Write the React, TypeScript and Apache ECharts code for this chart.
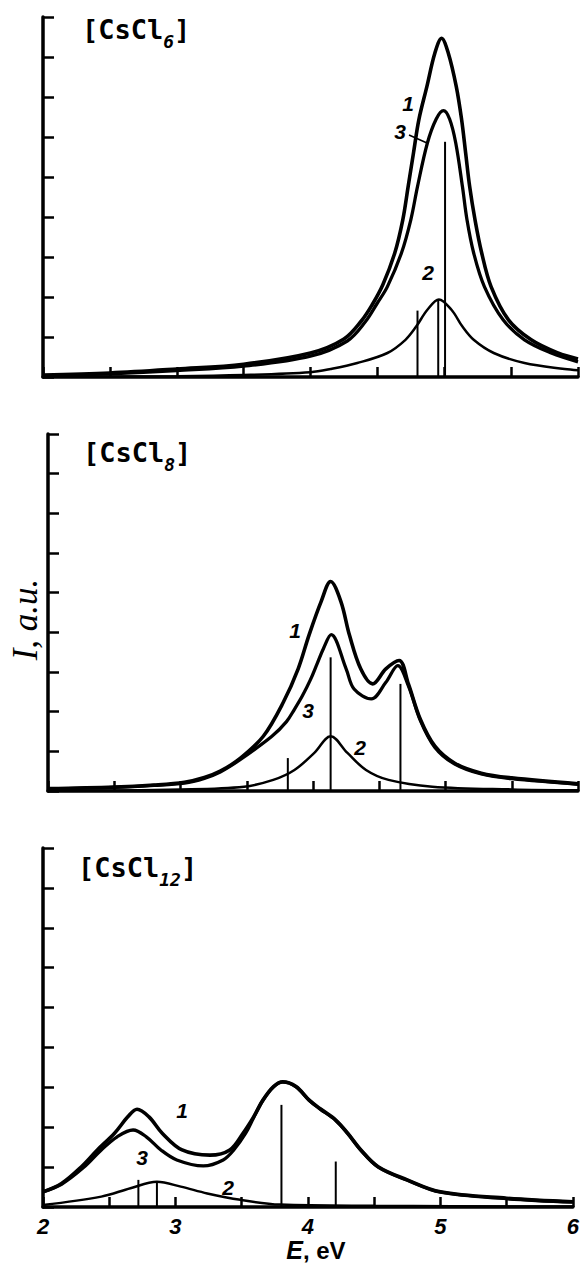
import { useEffect, useRef } from "react";
import * as echarts from "echarts";

// Panel titles: [prefix, subscript, suffix]
const panelTitles = [
  ["[CsCl", "6", "]"],
  ["[CsCl", "8", "]"],
  ["[CsCl", "12", "]"],
];
const xTickLabels = [2, 3, 4, 5, 6];
const xName = "E";
const xUnit = ", eV";
const yName = "I, a.u.";

// ---- Panel 1: [CsCl6] ----
const cscl6Curve1 = [
  [2.0, 0.05], [2.5, 0.1], [3.0, 0.2], [3.5, 0.32], [4.0, 0.6], [4.25, 0.95],
  [4.38, 1.4], [4.46, 1.8], [4.54, 2.3], [4.63, 3.1], [4.69, 3.93], [4.73, 4.76], [4.77, 5.6],
  [4.81, 6.43], [4.87, 7.26], [4.93, 8.1], [4.98, 8.47], [5.03, 8.1], [5.09, 7.26],
  [5.13, 6.43], [5.16, 5.6], [5.19, 4.76], [5.23, 3.93], [5.28, 3.1], [5.35, 2.26],
  [5.48, 1.43], [5.65, 0.93], [5.85, 0.6], [6.0, 0.45],
];
const cscl6Curve3 = [
  [2.0, 0.03], [2.5, 0.08], [3.0, 0.16], [3.5, 0.27], [4.0, 0.52], [4.275, 0.9],
  [4.41, 1.38], [4.5, 1.85], [4.575, 2.26], [4.68, 3.1], [4.75, 3.93], [4.8, 4.76], [4.874, 5.85],
  [4.94, 6.45], [4.994, 6.66], [5.04, 6.45], [5.086, 5.85], [5.136, 4.76], [5.17, 3.93],
  [5.22, 3.1], [5.3, 2.26], [5.44, 1.43], [5.6, 0.93], [5.8, 0.6], [6.0, 0.38],
];
const cscl6Curve2 = [
  [2.0, 0.0], [3.0, 0.02], [3.5, 0.05], [4.0, 0.12], [4.15, 0.2], [4.35, 0.35],
  [4.575, 0.6], [4.71, 0.93], [4.79, 1.26], [4.874, 1.68], [4.96, 1.94], [5.054, 1.68],
  [5.136, 1.26], [5.22, 0.93], [5.37, 0.6], [5.6, 0.35], [5.9, 0.2], [6.0, 0.17],
];
const cscl6Sticks = [[4.8, 1.66], [4.955, 1.93], [5.006, 5.88]];

// ---- Panel 2: [CsCl8] ----
const cscl8Curve1 = [
  [2.0, 0.06], [2.5, 0.1], [2.8, 0.15], [3.03, 0.22], [3.18, 0.34], [3.3, 0.5], [3.45, 0.82],
  [3.625, 1.38], [3.775, 2.23], [3.888, 3.08], [3.97, 3.93], [4.062, 4.78], [4.133, 5.28],
  [4.21, 4.78], [4.275, 3.93], [4.36, 3.08], [4.45, 2.7], [4.55, 3.08], [4.65, 3.29],
  [4.72, 2.7], [4.81, 1.81], [4.92, 1.13], [5.07, 0.7], [5.27, 0.45], [5.5, 0.33], [6.0, 0.18],
];
const cscl8Curve3 = [
  [2.0, 0.05], [2.5, 0.09], [2.8, 0.14], [3.03, 0.2], [3.18, 0.32], [3.3, 0.48], [3.45, 0.79],
  [3.69, 1.38], [3.8, 1.75], [3.86, 2.06], [3.92, 2.4], [3.98, 2.8], [4.03, 3.2], [4.08, 3.6],
  [4.137, 3.94], [4.25, 3.08], [4.31, 2.57], [4.44, 2.32], [4.55, 2.74], [4.64, 3.16],
  [4.72, 2.65], [4.81, 1.78], [4.92, 1.1], [5.07, 0.68], [5.27, 0.43], [5.5, 0.31], [6.0, 0.17],
];
const cscl8Curve2 = [
  [2.0, 0.0], [3.0, 0.04], [3.48, 0.11], [3.7, 0.28], [3.86, 0.53], [4.01, 0.96],
  [4.133, 1.38], [4.26, 0.96], [4.4, 0.53], [4.57, 0.28], [4.9, 0.11], [5.5, 0.04], [6.0, 0.02],
];
const cscl8Sticks = [[3.81, 0.83], [4.133, 3.37], [4.66, 2.7]];

// ---- Panel 3: [CsCl12] ----
const cscl12Curve1 = [
  [2.0, 0.38], [2.14, 0.59], [2.29, 1.01], [2.41, 1.43], [2.54, 1.85], [2.64, 2.26],
  [2.71, 2.45], [2.8, 2.26], [2.9, 1.85], [3.05, 1.43], [3.26, 1.3], [3.41, 1.43],
  [3.51, 1.85], [3.59, 2.26], [3.66, 2.68], [3.74, 3.02], [3.81, 3.14], [3.91, 3.02],
  [4.01, 2.68], [4.09, 2.47], [4.21, 2.18], [4.3, 1.85], [4.4, 1.43], [4.53, 1.01],
  [4.75, 0.68], [5.0, 0.38], [5.5, 0.22], [6.0, 0.13],
];
const cscl12Curve3 = [
  [2.0, 0.38], [2.14, 0.57], [2.31, 1.0], [2.44, 1.43], [2.56, 1.76], [2.68, 1.93],
  [2.78, 1.76], [2.89, 1.43], [3.01, 1.18], [3.21, 1.03], [3.36, 1.18], [3.44, 1.43],
  [3.53, 1.85], [3.59, 2.24], [3.66, 2.67], [3.74, 3.01], [3.81, 3.13], [3.91, 3.01],
  [4.01, 2.67], [4.09, 2.46], [4.21, 2.17], [4.3, 1.84], [4.4, 1.42], [4.53, 1.0],
  [4.75, 0.67], [5.0, 0.37], [5.5, 0.21], [6.0, 0.12],
];
const cscl12Curve2 = [
  [2.0, 0.05], [2.44, 0.26], [2.66, 0.47], [2.86, 0.63], [3.04, 0.51], [3.24, 0.34],
  [3.49, 0.18], [3.79, 0.06], [4.5, 0.03], [6.0, 0.01],
];
const cscl12Sticks = [[2.72, 0.68], [2.86, 0.63], [3.8, 2.56], [4.21, 1.14]];

const panels = [
  { c1: cscl6Curve1, c3: cscl6Curve3, c2: cscl6Curve2, sticks: cscl6Sticks },
  { c1: cscl8Curve1, c3: cscl8Curve3, c2: cscl8Curve2, sticks: cscl8Sticks },
  { c1: cscl12Curve1, c3: cscl12Curve3, c2: cscl12Curve2, sticks: cscl12Sticks },
];

// curve number labels, pixel layout per panel
const curveLabelPos = [
  [["1", 408, 103], ["3", 400, 131], ["2", 428, 272]],
  [["1", 295, 630], ["3", 308, 710], ["2", 360, 747]],
  [["1", 182, 1110], ["3", 142, 1157], ["2", 228, 1187]],
];

const grids = [
  { left: 43, right: 4, top: 17, height: 360 },
  { left: 43, right: 4, top: 434, height: 357 },
  { left: 43, right: 4, top: 848, height: 359 },
];
const titleTops = [8, 431, 846];
const titleLefts = [82, 83, 78];

export default function App() {
  const ref = useRef<HTMLDivElement>(null);
  useEffect(() => {
    if (!ref.current) return;
    const chart = echarts.init(ref.current, null, { renderer: "svg" });
    const black = "#000";
    const xAxis = grids.map((_, i) => ({
      type: "value",
      gridIndex: i,
      min: 2,
      max: 6,
      interval: 0.5,
      axisLine: { onZero: false, lineStyle: { color: black, width: 3.5 } },
      axisTick: { inside: true, length: 10, lineStyle: { color: black, width: 2.5 } },
      splitLine: { show: false },
      axisLabel: {
        show: i === 2,
        margin: 8,
        color: black,
        fontFamily: "Liberation Sans",
        fontStyle: "italic",
        fontWeight: "bold",
        fontSize: 22,
        formatter: (v: number) => (xTickLabels.includes(v) ? String(v) : ""),
      },
      name: i === 2 ? `{it|${xName}}{n|${xUnit}}` : "",
      nameLocation: "middle",
      nameGap: 24,
      nameTextStyle: {
        padding: [0, 0, 0, 16],
        rich: {
          it: { fontFamily: "Liberation Sans", fontStyle: "italic", fontWeight: "bold", fontSize: 25, color: black },
          n: { fontFamily: "Liberation Sans", fontWeight: "bold", fontSize: 24, color: black },
        },
      },
    }));
    const yAxis = grids.map((_, i) => ({
      type: "value",
      gridIndex: i,
      min: 0,
      max: 9,
      interval: 1,
      axisLine: { lineStyle: { color: black, width: 3.5 } },
      axisTick: { inside: true, length: 11, lineStyle: { color: black, width: 2.5 } },
      splitLine: { show: false },
      axisLabel: { show: false },
      name: i === 1 ? yName : "",
      nameLocation: "middle",
      nameRotate: 90,
      nameGap: 5,
      nameTextStyle: {
        fontFamily: "Liberation Serif",
        fontStyle: "italic",
        fontSize: 35,
        color: black,
        padding: [0, 14, 0, 0],
      },
    }));
    const series: any[] = [];
    panels.forEach((p, i) => {
      const lineBase = {
        type: "line",
        xAxisIndex: i,
        yAxisIndex: i,
        smooth: 0.35,
        showSymbol: false,
        symbol: "none",
        silent: true,
      };
      series.push({ ...lineBase, name: `curve1-${i}`, data: p.c1, lineStyle: { color: black, width: 3.6 } });
      series.push({ ...lineBase, name: `curve3-${i}`, data: p.c3, lineStyle: { color: black, width: 3.3 } });
      series.push({ ...lineBase, name: `curve2-${i}`, data: p.c2, lineStyle: { color: black, width: 2.5 } });
      series.push({
        type: "bar",
        name: `sticks-${i}`,
        xAxisIndex: i,
        yAxisIndex: i,
        barWidth: 2,
        data: p.sticks,
        itemStyle: { color: black },
        silent: true,
      });
    });
    const title = panelTitles.map((t, i) => ({
      text: `{b|${t[0]}}{s|${t[1]}}{b|${t[2]}}`,
      left: titleLefts[i],
      top: titleTops[i],
      padding: 0,
      textStyle: {
        rich: {
          b: { fontFamily: "DejaVu Sans Mono", fontSize: 27, lineHeight: 42, color: black, verticalAlign: "middle" },
          s: { fontFamily: "DejaVu Sans Mono", fontStyle: "italic", fontWeight: "bold", fontSize: 18, lineHeight: 18, color: black, verticalAlign: "bottom" },
        },
      },
    }));
    const graphic: any[] = [];
    curveLabelPos.forEach((arr) =>
      arr.forEach(([t, x, y]) =>
        graphic.push({
          type: "text",
          x: x as number,
          y: y as number,
          style: {
            text: t as string,
            fontFamily: "Liberation Sans",
            fontStyle: "italic",
            fontWeight: "bold",
            fontSize: 21,
            fill: black,
            align: "center",
            verticalAlign: "middle",
          },
        })
      )
    );
    graphic.push({
      type: "line",
      shape: { x1: 409, y1: 135, x2: 427, y2: 143 },
      style: { stroke: black, lineWidth: 1.5 },
    });
    chart.setOption({
      animation: false,
      backgroundColor: "#fff",
      title,
      grid: grids,
      xAxis,
      yAxis,
      series,
      graphic,
    });
    return () => chart.dispose();
  }, []);
  return (
    <div
      ref={ref}
      style={{ position: "fixed", left: 0, top: 0, width: 582, height: 1270, background: "#fff" }}
    />
  );
}
